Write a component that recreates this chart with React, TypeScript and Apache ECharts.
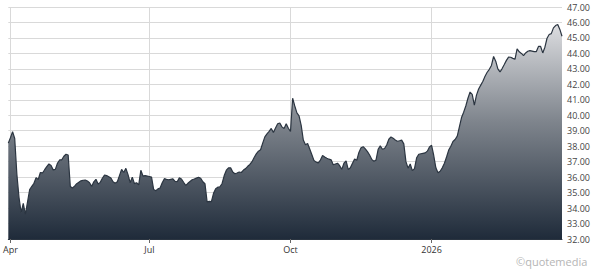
import React, { useEffect, useRef } from "react";
import * as echarts from "echarts";

// Closing prices, one per weekday from 2025-03-31 to 2026-03-27
const prices: number[] = [
  38.2, 38.55, 38.94, 38.5, 36.2, 34.7, 33.7, 34.3, 33.6, 34.4,
  35.2, 35.4, 35.6, 35.97, 35.85, 36.3, 36.27, 36.48, 36.68, 36.85,
  36.75, 36.47, 36.5, 36.9, 37.11, 37.12, 37.35, 37.48, 37.43, 35.4,
  35.3, 35.42, 35.58, 35.67, 35.76, 35.8, 35.81, 35.75, 35.64, 35.4,
  35.7, 35.86, 35.55, 35.66, 35.93, 36.14, 36.1, 36.03, 35.94, 35.7,
  35.6, 35.7, 36.1, 36.5, 36.3, 36.57, 36.16, 35.64, 36.0, 35.58,
  35.64, 35.5, 36.44, 36.07, 36.1, 36.07, 36.04, 36.0, 35.2, 35.12,
  35.24, 35.3, 35.64, 35.9, 35.86, 35.83, 35.86, 35.89, 35.72, 35.7,
  35.95, 35.88, 35.67, 35.47, 35.6, 35.72, 35.83, 35.88, 35.94, 35.99,
  35.93, 35.7, 35.57, 34.4, 34.43, 34.42, 34.95, 35.25, 35.35, 35.38,
  35.59, 36.1, 36.45, 36.6, 36.6, 36.33, 36.22, 36.27, 36.33, 36.3,
  36.46, 36.55, 36.7, 36.82, 37.0, 37.27, 37.5, 37.68, 37.77, 38.2,
  38.6, 38.8, 38.96, 39.15, 38.88, 39.18, 39.45, 39.5, 39.25, 39.15,
  39.45, 39.16, 38.95, 41.1, 40.6, 40.15, 39.96, 39.35, 38.4, 38.1,
  38.18, 37.82, 37.45, 37.07, 36.97, 36.92, 37.1, 37.4, 37.3, 37.22,
  37.16, 37.12, 36.8, 36.85, 36.9, 36.74, 36.5, 36.9, 37.05, 36.5,
  36.6, 36.9, 37.17, 37.09, 37.6, 37.9, 37.97, 37.83, 37.65, 37.43,
  37.15, 37.03, 37.1, 37.8, 38.02, 37.8, 37.85, 38.08, 38.45, 38.6,
  38.52, 38.4, 38.32, 38.35, 38.39, 38.15, 37.0, 36.58, 36.85, 36.42,
  36.55, 37.25, 37.48, 37.51, 37.54, 37.57, 37.68, 37.95, 38.06, 37.4,
  36.6, 36.28, 36.38, 36.6, 36.9, 37.3, 37.75, 38.0, 38.3, 38.43,
  38.65, 39.25, 39.85, 40.2, 40.6, 41.1, 41.5, 41.35, 40.65, 41.3,
  41.7, 41.95, 42.2, 42.52, 42.78, 42.97, 43.22, 43.8, 43.5, 43.0,
  42.8, 43.02, 43.28, 43.55, 43.76, 43.75, 43.68, 43.62, 44.3, 44.1,
  44.0, 43.86, 44.03, 44.14, 44.18, 44.15, 44.11, 44.12, 44.45, 44.45,
  44.03, 44.4, 44.98, 45.22, 45.28, 45.65, 45.8, 45.87, 45.55, 45.11,
];

const startDate = "2025-03-31";
const tickDates = ["2025-04-01", "2025-07-01", "2025-10-01", "2026-01-01"];
const tickLabels = ["Apr", "Jul", "Oct", "2026"];
const yMin = 32;
const yMax = 47;

function weekdays(start: string, count: number): string[] {
  const out: string[] = [];
  const d = new Date(start + "T00:00:00Z");
  while (out.length < count) {
    const wd = d.getUTCDay();
    if (wd !== 0 && wd !== 6) out.push(d.toISOString().slice(0, 10));
    d.setUTCDate(d.getUTCDate() + 1);
  }
  return out;
}

export default function App() {
  const ref = useRef<HTMLDivElement>(null);
  useEffect(() => {
    if (!ref.current) return;
    const chart = echarts.init(ref.current, null, { renderer: "svg" });
    const dates = weekdays(startDate, prices.length);
    const tickSet = new Set(tickDates);
    const labelOf: Record<string, string> = {};
    tickDates.forEach((d, i) => (labelOf[d] = tickLabels[i]));
    const showTick = (_i: number, v: string) => tickSet.has(v);
    const font = "'Open Sans', 'Noto Sans', sans-serif";
    chart.setOption({
      animation: false,
      grid: { left: 3, right: 32, top: 7, bottom: 31, containLabel: false },
      xAxis: {
        type: "category",
        data: dates,
        boundaryGap: false,
        axisLine: { show: true, lineStyle: { color: "#2a3440", width: 1 } },
        axisTick: { show: true, interval: showTick, length: 4, lineStyle: { color: "#666" } },
        axisLabel: {
          interval: showTick,
          formatter: (v: string) => labelOf[v] || "",
          color: "#333",
          fontSize: 9,
          fontFamily: font,
          margin: 6,
        },
        splitLine: { show: true, interval: showTick, lineStyle: { color: "#d9d9d9", width: 1 } },
      },
      yAxis: {
        type: "value",
        position: "right",
        min: yMin,
        max: yMax,
        interval: 1,
        axisLine: { show: false },
        axisTick: { show: false },
        axisLabel: {
          formatter: (v: number) => v.toFixed(2),
          color: "#444",
          fontSize: 9,
          fontFamily: font,
          margin: 5,
        },
        splitLine: { show: true, lineStyle: { color: "#d9d9d9", width: 1 } },
      },
      series: [
        {
          type: "line",
          data: prices,
          symbol: "none",
          lineStyle: { color: "#2b3541", width: 1.2 },
          areaStyle: {
            opacity: 1,
            color: new echarts.graphic.LinearGradient(0, 0, 0, 1, [
              { offset: 0, color: "#dcdde0" },
              { offset: 0.45, color: "#7f858d" },
              { offset: 1, color: "#1f2b3a" },
            ]),
          },
        },
      ],
      graphic: [
        {
          type: "text",
          left: 516,
          top: 256,
          style: { text: "©quotemedia", fill: "#b5b5b5", fontSize: 11, fontFamily: font },
        },
      ],
    });
    return () => chart.dispose();
  }, []);
  return (
    <div
      ref={ref}
      style={{ position: "fixed", left: 0, top: 0, width: 594, height: 270, background: "#fff" }}
    />
  );
}
